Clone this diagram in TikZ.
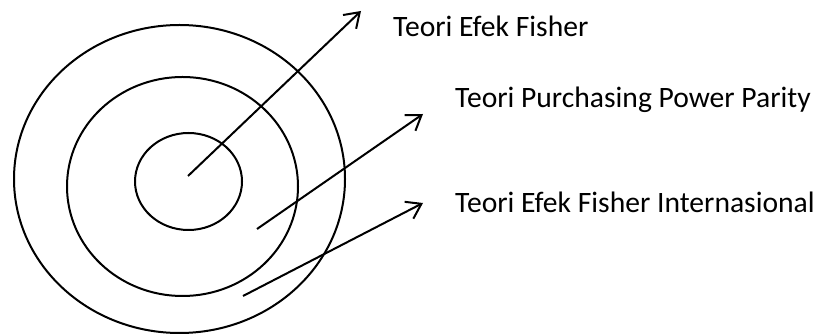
\documentclass[tikz,border=0pt]{standalone}
\usepackage{fontspec}
\setmainfont{Carlito}
\usepackage{xcolor}
\usepackage{tikz}
\usetikzlibrary{arrows.meta, positioning}

\begin{document}
\begin{tikzpicture}[x=1pt, y=-1pt,
  ring/.style={draw=black, line width=2pt},
  pointer/.style={-{Straight Barb[length=14pt, width=19pt, line width=2pt]}, black, line width=2pt},
  tlabel/.style={anchor=base west, inner sep=0pt, font=\fontsize{29.6}{35}\selectfont}
]
\useasboundingbox (0,0) rectangle (819,336);
\coordinate (couter) at (179.5,179);
\coordinate (cmiddle) at (182.5,186.5);
\coordinate (cinner) at (188.5,181.5);
\draw[ring] (couter) ellipse [x radius=165.5, y radius=154];
\draw[ring] (cmiddle) ellipse [x radius=115.5, y radius=109.5];
\draw[ring] (cinner) ellipse [x radius=53.5, y radius=48.5];
\node[tlabel] (fisher) at (393,37) {Teori Efek Fisher};
\node[tlabel] (ppp) at (455,108) {Teori Purchasing Power Parity};
\node[tlabel] (ife) at (455,213) {Teori Efek Fisher Internasional};
\coordinate (s1) at (188,176);
\coordinate (s2) at (257,229);
\coordinate (s3) at (243,296);
\coordinate (t1) at (361,11);
\coordinate (t2) at (423,114);
\coordinate (t3) at (423,203);
\draw[pointer] (s1) -- (t1);
\draw[pointer] (s2) -- (t2);
\draw[pointer] (s3) -- (t3);
\end{tikzpicture}
\end{document}
